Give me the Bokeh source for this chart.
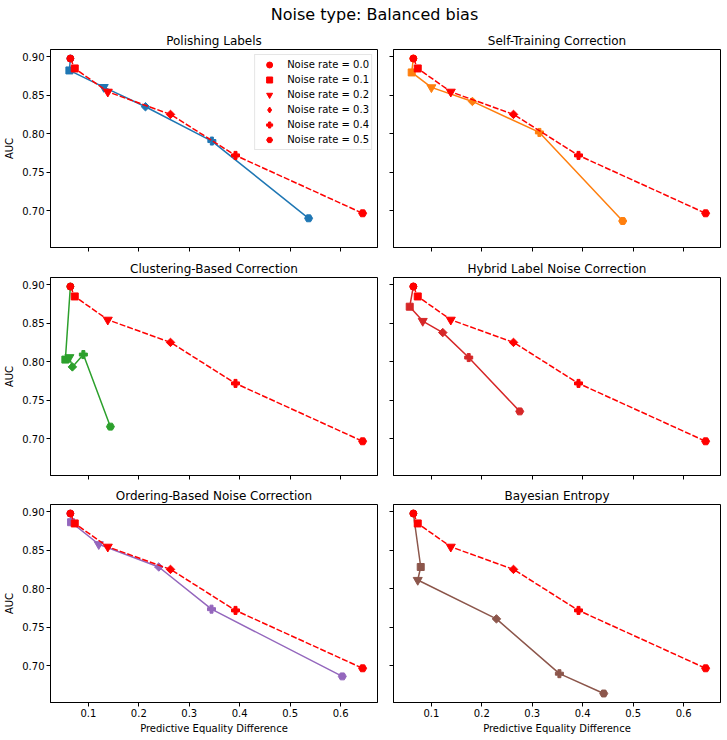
import math
from bokeh.plotting import figure
from bokeh.layouts import gridplot, column
from bokeh.models import (Range1d, FixedTicker, Legend, LegendItem,
                          NumeralTickFormatter)
from bokeh.embed import file_html
from bokeh.resources import INLINE
from bokeh.core.properties import value

# ---------------- data ----------------
suptitle = "Noise type: Balanced bias"
noise_rates = [0.0, 0.1, 0.2, 0.3, 0.4, 0.5]

baseline_ped = [0.0643, 0.0730, 0.1385, 0.2628, 0.3917, 0.6437]
baseline_auc = [0.8978, 0.8849, 0.8546, 0.8253, 0.7721, 0.6970]

method_names = ["Polishing Labels", "Self-Training Correction",
                "Clustering-Based Correction", "Hybrid Label Noise Correction",
                "Ordering-Based Noise Correction", "Bayesian Entropy"]

polishing_ped = [0.0643, 0.0624, 0.1305, 0.2132, 0.3448, 0.5366]
polishing_auc = [0.8978, 0.8823, 0.8607, 0.8352, 0.7907, 0.6905]

selftraining_ped = [0.0643, 0.0610, 0.1001, 0.1814, 0.3142, 0.4793]
selftraining_auc = [0.8978, 0.8797, 0.8603, 0.8421, 0.8019, 0.6870]

clustering_ped = [0.0643, 0.0544, 0.0624, 0.0683, 0.0901, 0.1437]
clustering_auc = [0.8978, 0.8030, 0.8060, 0.7935, 0.8095, 0.7160]

hybrid_ped = [0.0643, 0.0571, 0.0829, 0.1226, 0.1740, 0.2752]
hybrid_auc = [0.8978, 0.8716, 0.8530, 0.8380, 0.8056, 0.7358]

ordering_ped = [0.0643, 0.0657, 0.1206, 0.2396, 0.3441, 0.6034]
ordering_auc = [0.8978, 0.8865, 0.8579, 0.8284, 0.7737, 0.6865]

bayesian_ped = [0.0643, 0.0789, 0.0730, 0.2290, 0.3538, 0.4417]
bayesian_auc = [0.8978, 0.8284, 0.8115, 0.7611, 0.6900, 0.6643]

method_ped = [polishing_ped, selftraining_ped, clustering_ped,
              hybrid_ped, ordering_ped, bayesian_ped]
method_auc = [polishing_auc, selftraining_auc, clustering_auc,
              hybrid_auc, ordering_auc, bayesian_auc]

x_ticks = [0.1, 0.2, 0.3, 0.4, 0.5, 0.6]
y_ticks = [0.70, 0.75, 0.80, 0.85, 0.90]
x_label = "Predictive Equality Difference"
y_label = "AUC"

# ---------------- styles ----------------
method_colors = ["#1f77b4", "#ff7f0e", "#2ca02c", "#d62728", "#9467bd", "#8c564b"]
marker_kinds = ["circle", "square", "inverted_triangle", "square", "plus", "hex"]
legend_kinds = ["circle", "square", "inverted_triangle", "diamond", "plus", "hex"]
marker_sizes = [7, 7, 9, 6, 8, 8]
marker_angles = [0, 0, 0, math.pi / 4, 0, 0]

# ---------------- ranges (matplotlib-like 5% margins) ----------------
all_x = baseline_ped + sum(method_ped, [])
all_y = baseline_auc + sum(method_auc, [])
dx = (max(all_x) - min(all_x)) * 0.05
dy = (max(all_y) - min(all_y)) * 0.05
x_range = Range1d(min(all_x) - dx, max(all_x) + dx)
y_range = Range1d(min(all_y) - dy, max(all_y) + dy)

FONT = "DejaVu Sans"
FRAME_W, FRAME_H = 327, 198
TOPS = [21, 22, 21]
BOTTOMS = [8, 8, 36]


def hide_labels(ax):
    ax.major_label_text_font_size = "0px"
    ax.major_label_text_color = None
    ax.major_label_text_alpha = 0


def draw_points(p, xs, ys, color):
    rends = []
    for k in range(len(noise_rates)):
        r = p.scatter(x=[xs[k]], y=[ys[k]], marker=marker_kinds[k],
                      size=marker_sizes[k], angle=marker_angles[k],
                      fill_color=color, line_color=color)
        rends.append(r)
    return rends


def make_panel(i):
    col = i % 2
    row = i // 2
    left_b = 50 if col == 0 else 8
    right_b = 8 if col == 0 else 6
    top_b = TOPS[row]
    bottom_b = BOTTOMS[row]
    p = figure(width=left_b + FRAME_W + right_b,
               height=top_b + FRAME_H + bottom_b,
               min_border_left=left_b, min_border_right=right_b,
               min_border_top=top_b, min_border_bottom=bottom_b,
               x_range=x_range, y_range=y_range,
               toolbar_location=None, output_backend="svg",
               title=method_names[i])
    p.title.align = "center"
    p.title.text_font = FONT
    p.title.text_font_size = "12px"
    p.title.text_font_style = "normal"
    p.title.text_color = "black"
    p.title.standoff = 4
    p.grid.visible = False
    p.outline_line_color = "black"
    p.outline_line_width = 1
    p.background_fill_color = "white"
    p.border_fill_color = "white"

    p.xaxis.ticker = FixedTicker(ticks=x_ticks)
    p.yaxis.ticker = FixedTicker(ticks=y_ticks)
    p.xaxis.formatter = NumeralTickFormatter(format="0.0")
    p.yaxis.formatter = NumeralTickFormatter(format="0.00")
    for ax in p.axis:
        ax.axis_line_color = "black"
        ax.major_tick_line_color = "black"
        ax.major_tick_out = 4
        ax.major_tick_in = 0
        ax.minor_tick_line_color = None
        ax.major_label_text_font = FONT
        ax.major_label_text_font_size = "10px"
        ax.major_label_text_color = "black"
        ax.major_label_standoff = 2
        ax.axis_label_text_font = FONT
        ax.axis_label_text_font_size = "10px"
        ax.axis_label_text_font_style = "normal"
        ax.axis_label_text_color = "black"
    p.yaxis.axis_label_standoff = 4
    p.xaxis.axis_label_standoff = 3
    if col == 0:
        p.yaxis.axis_label = y_label
    else:
        for ax in p.yaxis:
            hide_labels(ax)
    if row == 2:
        p.xaxis.axis_label = x_label
    else:
        for ax in p.xaxis:
            hide_labels(ax)

    # method line + markers
    p.line(x=method_ped[i], y=method_auc[i], line_color=method_colors[i],
           line_width=1.5)
    draw_points(p, method_ped[i], method_auc[i], method_colors[i])

    # baseline (red dashed)
    p.line(x=baseline_ped, y=baseline_auc, line_color="red", line_width=1.5,
           line_dash="6 2")

    if i == 0:
        # legend glyph renderers (hidden beneath the plotted markers)
        leg_rends = [p.scatter(x=[baseline_ped[k]], y=[baseline_auc[k]],
                               marker=legend_kinds[k], size=5,
                               fill_color="red", line_color="red")
                     for k in range(len(noise_rates))]
    base_rends = draw_points(p, baseline_ped, baseline_auc, "red")

    if i == 0:
        items = [LegendItem(label="Noise rate = %.1f" % r, renderers=[leg_rends[k]])
                 for k, r in enumerate(noise_rates)]
        leg = Legend(items=items, location="top_right")
        leg.label_text_font = FONT
        leg.label_text_font_size = "10px"
        leg.label_text_color = "black"
        leg.glyph_height = 15
        leg.glyph_width = 24
        leg.label_height = 15
        leg.spacing = 0
        leg.padding = 2
        leg.margin = 5
        leg.label_standoff = 6
        leg.border_line_color = "#cccccc"
        leg.background_fill_alpha = 0.8
        p.add_layout(leg, "center")
    return p


panels = [make_panel(i) for i in range(6)]
grid = gridplot([[panels[0], panels[1]], [panels[2], panels[3]],
                 [panels[4], panels[5]]], toolbar_location=None)

head = figure(width=726, height=28, x_range=(0, 1), y_range=(0, 1),
              min_border=0, toolbar_location=None, output_backend="svg",
              x_axis_location=None, y_axis_location=None)
head.grid.visible = False
head.outline_line_color = None
head.text(x=[0.5], y=[0.5], text=[suptitle], text_align="center",
          text_baseline="middle", text_font=value(FONT), x_offset=11,
          text_font_size="16px", text_color="black")

layout = column(head, grid)
open("out.html", "w").write(file_html(layout, INLINE))
